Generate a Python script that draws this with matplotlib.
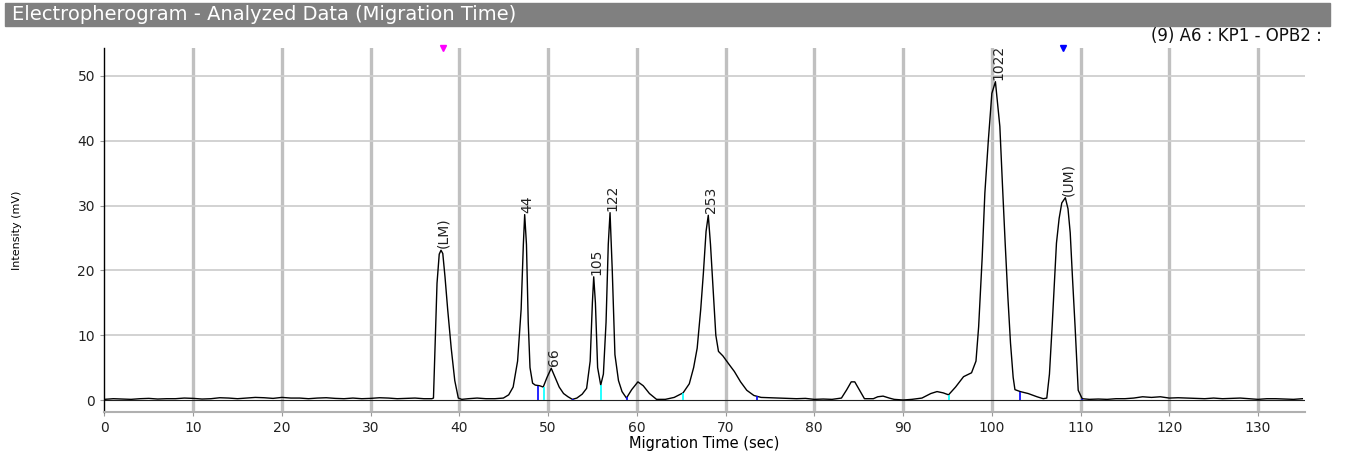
import matplotlib
matplotlib.use('Agg')
import matplotlib.pyplot as plt

plt.rcParams['font.family'] = ['DejaVu Sans']

# trace (sec, mV)
times = [0, 1, 2, 3, 4, 5, 6, 7, 8, 9, 10, 11, 12, 13, 14, 15, 16, 17, 18, 19, 20,
         21, 22, 23, 24, 25, 26, 27, 28, 29, 30, 31, 32, 33, 34, 35, 36,
         36.9, 37.08, 37.28, 37.48, 37.73, 37.93, 38.13, 38.38, 38.68, 39.08, 39.48, 39.88,
         40.27, 41, 42, 43, 44, 44.96, 45.56, 46.06, 46.56, 46.96, 47.21, 47.36, 47.56, 47.76,
         47.96, 48.25, 48.55, 49.05, 49.45, 49.85, 50.35, 50.75, 51.25, 51.74, 52.24, 52.74, 53.24,
         53.84, 54.34, 54.74, 54.99, 55.14, 55.33, 55.58, 55.93, 56.23, 56.53, 56.78, 56.98,
         57.23, 57.53, 57.93, 58.33, 58.83, 59.42, 60.12, 60.72, 61.42, 62.22, 63.21, 64.21, 65.21,
         65.91, 66.4, 66.8, 67.2, 67.5, 67.8, 68.05, 68.3, 68.6, 68.9, 69.2, 69.7, 70.39,
         70.99, 71.69, 72.39, 73.19, 74, 75, 76, 77, 78, 79, 80, 81, 82, 83.06, 83.66, 84.16,
         84.56, 85.06, 85.65, 86.65, 87.15, 87.75, 88.45, 89, 90, 91, 92.13, 93.13, 93.83,
         94.53, 95.13, 95.92, 96.82, 97.72, 98.22, 98.52, 98.92, 99.22, 99.61, 100.01, 100.41,
         100.91, 101.21, 101.51, 101.81, 102.11, 102.41, 102.61, 103.21, 104.1, 105.1, 105.8,
         106.2, 106.5, 106.8, 107.09, 107.29, 107.59, 107.89, 108.29, 108.59, 108.84, 109.09,
         109.39, 109.74, 110.19, 111, 112, 113, 114, 115, 116, 117, 118, 119, 120, 121, 122,
         123, 124, 125, 126, 127, 128, 129, 130, 131, 132, 133, 134, 135]
intensity = [0.1, 0.2, 0.15, 0.1, 0.2, 0.25, 0.15, 0.2, 0.2, 0.3, 0.25, 0.15, 0.2, 0.35, 0.3, 0.2,
             0.3, 0.4, 0.35, 0.25, 0.4, 0.3, 0.3, 0.2, 0.3, 0.35, 0.25, 0.2, 0.3, 0.2, 0.25,
             0.35, 0.3, 0.2, 0.25, 0.3, 0.2,
             0.2, 0.3, 9, 18, 22.5, 23.1, 22.6, 19, 14, 8, 3, 0.3,
             0.1, 0.2, 0.3, 0.2, 0.2, 0.3, 0.8, 2, 6, 14, 24, 28.6, 24, 12,
             5, 2.6, 2.3, 2.2, 2.0, 3.4, 4.9, 3.6, 2.0, 1.0, 0.5, 0.1, 0.3,
             0.9, 1.8, 6, 15, 19.0, 15, 5, 2.3, 4, 12, 24, 28.9,
             20, 7, 3, 1.3, 0.3, 1.6, 2.8, 2.2, 1.0, 0.1, 0.1, 0.4, 1.1,
             2.5, 5, 8, 14, 19.6, 26, 28.5, 24, 17, 10, 7.5, 6.8, 5.5,
             4.4, 2.8, 1.5, 0.7, 0.4, 0.35, 0.3, 0.25, 0.2, 0.25, 0.1, 0.15, 0.1, 0.3, 1.6, 2.8,
             2.8, 1.6, 0.2, 0.2, 0.5, 0.6, 0.3, 0.1, 0.0, 0.1, 0.3, 1.0, 1.3,
             1.1, 0.8, 2.0, 3.6, 4.2, 6, 11.3, 22, 31.9, 40, 47.3, 49.1,
             42.2, 33, 24.2, 16, 8.8, 3.5, 1.6, 1.3, 1.0, 0.5, 0.2,
             0.3, 4, 11.3, 19, 24.2, 28, 30.4, 31.2, 29.5, 25.8, 19,
             11.3, 1.5, 0.2, 0.1, 0.15, 0.1, 0.2, 0.2, 0.3, 0.5, 0.4, 0.5, 0.3, 0.35, 0.3,
             0.25, 0.2, 0.3, 0.2, 0.25, 0.3, 0.2, 0.1, 0.2, 0.2, 0.15, 0.1, 0.2]

# called peaks
peak_labels = ['(LM)', '44', '66', '105', '122', '253', '1022', '(UM)']
peak_times = [37.93, 47.36, 50.35, 55.14, 56.98, 68.05, 100.41, 108.29]
peak_heights = [23.1, 28.6, 4.9, 19.0, 28.9, 28.5, 49.1, 31.2]

# peak boundary ticks
bound_times = [48.85, 49.55, 52.84, 55.93, 58.93, 65.21, 73.49, 95.13, 103.21, 110.19]
bound_heights = [2.2, 2.0, 0.2, 2.3, 0.4, 1.1, 0.6, 0.8, 1.3, 0.2]
bound_colors = ['blue', 'cyan', 'blue', 'cyan', 'blue', 'cyan', 'blue', 'cyan', 'blue', 'blue']

fig = plt.figure(figsize=(13.51, 4.53), dpi=100)

# title bar
fig.patches.append(plt.Rectangle((5 / 1351, 1 - 26 / 453), 1325 / 1351, 23 / 453,
                                 transform=fig.transFigure, color='#808080'))
fig.text(12 / 1351, 1 - 14.5 / 453, 'Electropherogram - Analyzed Data (Migration Time)',
         color='white', fontsize=14, va='center', ha='left')
fig.text(1322 / 1351, 1 - 36 / 453, '(9) A6 : KP1 - OPB2 :', fontsize=12,
         va='center', ha='right', color='#111111')

ax = fig.add_axes([104 / 1351, 41 / 453, 1201 / 1351, 364 / 453])
ax.set_xlim(-0.05, 135.3)
ax.set_ylim(-1.85, 54.3)

ax.set_xticks(range(0, 131, 10))
ax.set_yticks(range(0, 51, 10))
for t in range(10, 131, 10):
    ax.axvline(t, color='#c0c0c0', lw=2.4, zorder=0)
for v in range(10, 51, 10):
    ax.axhline(v, color='#cfcfcf', lw=1.3, zorder=0)
ax.axhline(0, color='#222222', lw=0.8, zorder=1)

ax.plot(times, intensity, color='black', lw=1.0, zorder=3)

ax.vlines(bound_times, 0, bound_heights, colors=bound_colors, lw=1.2, zorder=4)

for lab, t, h in zip(peak_labels, peak_times, peak_heights):
    ax.text(t + 0.3, h + 0.3, lab, rotation=90, ha='center', va='bottom',
            fontsize=10, family='Liberation Sans Narrow', color='#222222', zorder=5)

# size standard markers
ax.plot([38.15], [54.3], marker='v', color='magenta', markersize=4, clip_on=False)
ax.plot([108.05], [54.3], marker='v', color='blue', markersize=4, clip_on=False)

for side in ['top', 'right']:
    ax.spines[side].set_visible(False)
ax.spines['left'].set_color('black')
ax.spines['left'].set_linewidth(1.0)
ax.spines['bottom'].set_color('#b0b0b0')
ax.spines['bottom'].set_linewidth(1.5)
ax.tick_params(axis='both', labelsize=10, colors='#999999', labelcolor='#222222', length=3)

ax.set_xlabel('Migration Time (sec)', fontsize=10.5, labelpad=1)
ax.set_ylabel('Intensity (mV)', fontsize=8, family='Liberation Sans Narrow', labelpad=40)

plt.savefig('out.png', dpi=100)
